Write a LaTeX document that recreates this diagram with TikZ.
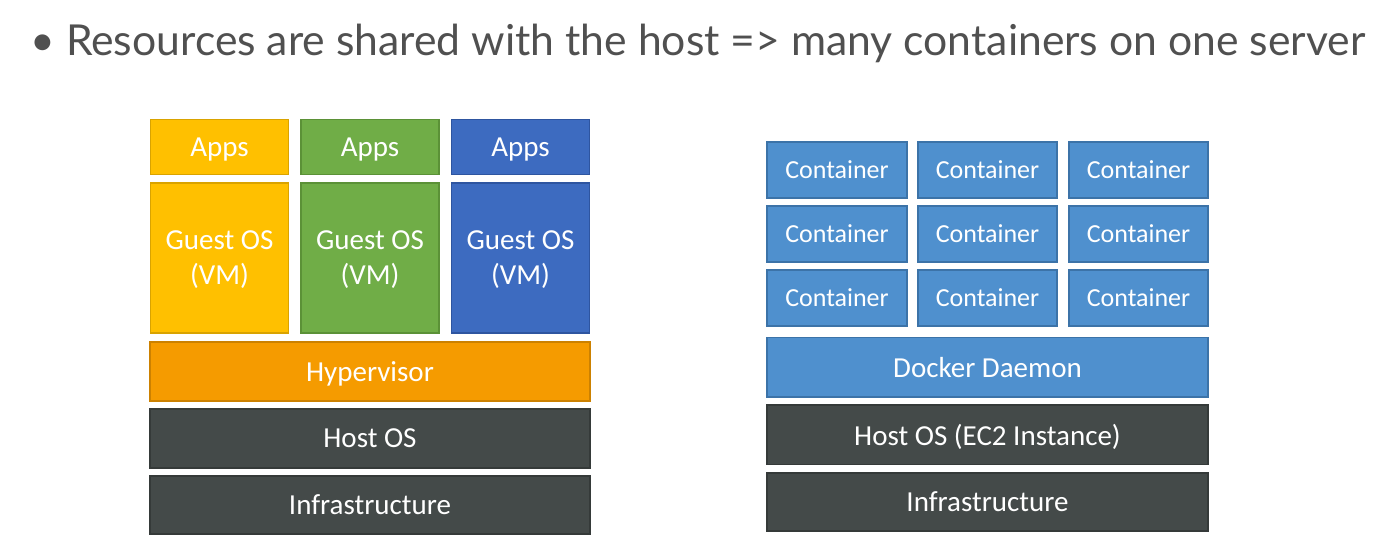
\documentclass[tikz,border=0pt]{standalone}
\usepackage{fontspec}
\setmainfont{Carlito}
\newfontfamily\headfont{Lato}
\usepackage{xcolor}

\definecolor{appyellow}{HTML}{FFC000}
\definecolor{appyellowb}{HTML}{D9A300}
\definecolor{appgreen}{HTML}{70AD47}
\definecolor{appgreenb}{HTML}{5B9137}
\definecolor{appblue}{HTML}{3D6BC0}
\definecolor{appblueb}{HTML}{2E55A0}
\definecolor{hyperorange}{HTML}{F59B00}
\definecolor{hyperorangeb}{HTML}{CC8100}
\definecolor{layergray}{HTML}{444A49}
\definecolor{layergrayb}{HTML}{353A39}
\definecolor{ctrblue}{HTML}{4F90CE}
\definecolor{ctrblueb}{HTML}{3C73A8}
\definecolor{headgray}{HTML}{505050}

\begin{document}
\begin{tikzpicture}[x=0.5pt,y=-0.5pt]
					\tikzstyle{layer} = [rectangle,inner sep=0pt,text=white,text depth=0pt,font=\fontsize{14.5pt}{17.5pt}\selectfont,line width=0.8pt,align=center]
					\tikzstyle{ctr} = [layer,fill=ctrblue,draw=ctrblueb,minimum width=69.75pt,minimum height=28pt,font=\fontsize{13pt}{15pt}\selectfont]
					\useasboundingbox (0,0) rectangle (1380,554);
					% title line
					\node[anchor=base west,inner sep=0pt,text=headgray] (title) at (30,55)
						{\resizebox{667.5pt}{!}{\headfont • Resources are shared with the host => many containers on one server}};
					% virtual machines
					\node[layer,fill=appyellow,draw=appyellowb,minimum width=69pt,minimum height=27.5pt] (apps1) at (219.5,147) {Apps};
					\node[layer,fill=appgreen,draw=appgreenb,minimum width=69pt,minimum height=27.5pt] (apps2) at (370,147) {Apps};
					\node[layer,fill=appblue,draw=appblueb,minimum width=69pt,minimum height=27.5pt] (apps3) at (520.5,147) {Apps};
					\node[layer,fill=appyellow,draw=appyellowb,minimum width=69pt,minimum height=75pt] (guest1) at (219.5,258) {Guest OS\\(VM)};
					\node[layer,fill=appgreen,draw=appgreenb,minimum width=69pt,minimum height=75pt] (guest2) at (370,258) {Guest OS\\(VM)};
					\node[layer,fill=appblue,draw=appblueb,minimum width=69pt,minimum height=75pt] (guest3) at (520.5,258) {Guest OS\\(VM)};
					\node[layer,fill=hyperorange,draw=hyperorangeb,minimum width=220pt,minimum height=29.5pt] (hyper) at (370,371.5) {Hypervisor};
					\node[layer,fill=layergray,draw=layergrayb,minimum width=220pt,minimum height=29.5pt] (hostl) at (370,438.3) {Host OS};
					\node[layer,fill=layergray,draw=layergrayb,minimum width=220pt,minimum height=29pt] (infral) at (370,505) {Infrastructure};
					% containers
					\node[ctr] (c11) at (837,169.7) {Container};
					\node[ctr] (c12) at (987.5,169.7) {Container};
					\node[ctr] (c13) at (1138.5,169.7) {Container};
					\node[ctr] (c21) at (837,234) {Container};
					\node[ctr] (c22) at (987.5,234) {Container};
					\node[ctr] (c23) at (1138.5,234) {Container};
					\node[ctr] (c31) at (837,297.9) {Container};
					\node[ctr] (c32) at (987.5,297.9) {Container};
					\node[ctr] (c33) at (1138.5,297.9) {Container};
					\node[layer,fill=ctrblue,draw=ctrblueb,minimum width=220.5pt,minimum height=29.7pt] (daemon) at (987.5,367) {Docker Daemon};
					\node[layer,fill=layergray,draw=layergrayb,minimum width=220.5pt,minimum height=29.6pt] (hostr) at (987.5,434.7) {Host OS (EC2 Instance)};
					\node[layer,fill=layergray,draw=layergrayb,minimum width=220.5pt,minimum height=29pt] (infrar) at (987.5,501.7) {Infrastructure};
\end{tikzpicture}
\end{document}
